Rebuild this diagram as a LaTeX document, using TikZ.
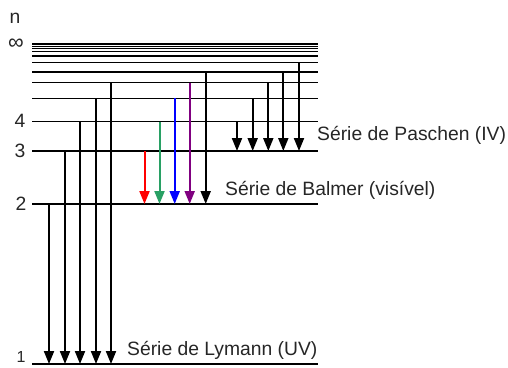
\documentclass[tikz,border=0pt]{standalone}
\usepackage{fontspec}
\setmainfont{Liberation Sans}
\usetikzlibrary{arrows.meta}
\definecolor{bgreen}{RGB}{40,160,100}
\definecolor{bpurple}{RGB}{128,0,128}
\tikzset{
  level/.style={line width=1.5pt, black},
  trans/.style={line width=2pt, -{Triangle[length=13pt,width=10pt]}},
  lbl/.style={font=\fontsize{19.3}{21}\selectfont, inner sep=0pt, text=black!85},
  series/.style={lbl, anchor=west}
}
\begin{document}
\begin{tikzpicture}[x=1pt,y=-1pt]
\useasboundingbox (0,0) rectangle (508,367);
% energy levels
\foreach \y/\n in {44/i13,46.3/i12,48.7/i11,51.7/i10,56/i9,62.3/i8,72/i7,82.7/i6,98.3/i5,121.7/i4,151/i3,204/i2,364/i1}{
  \coordinate (\n a) at (32,\y);
  \coordinate (\n b) at (318,\y);
  \draw[level] (\n a) -- (\n b);
}
% level labels
\node[lbl] (nlab) at (15,18) {n};
\node[lbl, font=\fontsize{22}{24}\selectfont] (inflab) at (16,44) {∞};
\node[lbl] (l4) at (20,121) {4};
\node[lbl] (l3) at (20,151) {3};
\node[lbl] (l2) at (21,204) {2};
\node[lbl, font=\fontsize{16}{18}\selectfont] (l1) at (21,357) {1};
% Lyman
\foreach \x/\ys/\k in {49/204/a,65/151/b,80/121.7/c,96/98.3/d,111/82.7/e}{
  \coordinate (ly\k s) at (\x,\ys);
  \coordinate (ly\k e) at (\x,364);
  \draw[trans] (ly\k s) -- (ly\k e);
}
% Balmer
\foreach \x/\ys/\c/\k in {144.5/151/red/a,159.5/121.7/bgreen/b,174.7/98.3/blue/c,189.7/82.7/bpurple/d,205.7/72/black/e}{
  \coordinate (ba\k s) at (\x,\ys);
  \coordinate (ba\k e) at (\x,204);
  \draw[trans,\c] (ba\k s) -- (ba\k e);
}
% Paschen
\foreach \x/\ys/\k in {237/121.7/a,252.7/98.3/b,268.3/82.7/c,283.3/72/d,299/62.3/e}{
  \coordinate (pa\k s) at (\x,\ys);
  \coordinate (pa\k e) at (\x,151);
  \draw[trans] (pa\k s) -- (pa\k e);
}
% series labels
\node[series] (paschen) at (317,135) {Série de Paschen (IV)};
\node[series] (balmer) at (225,190) {Série de Balmer (visível)};
\node[series] (lyman) at (127,350) {Série de Lymann (UV)};
\end{tikzpicture}
\end{document}
